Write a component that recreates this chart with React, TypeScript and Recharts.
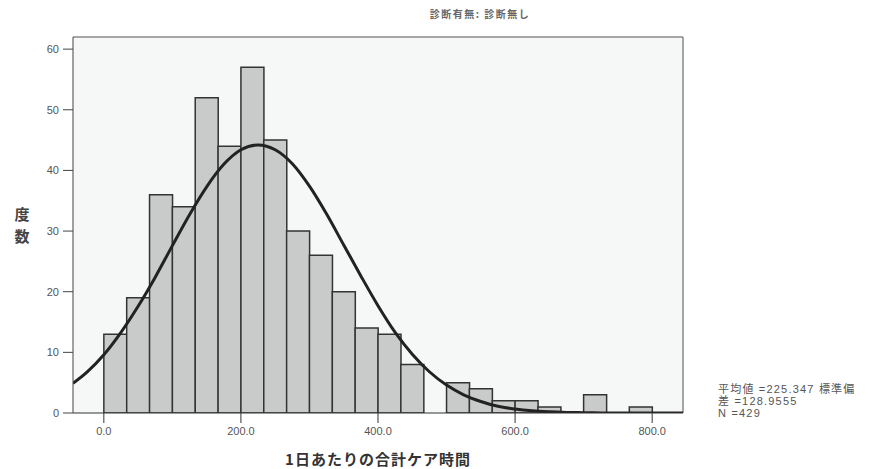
import { Bar, CartesianGrid, ComposedChart, Line, ReferenceLine, XAxis, YAxis } from 'recharts'

// histogram bins (width 33.33, from 0 to 800)
const binCenters = [
  16.67, 50, 83.33, 116.67, 150, 183.33, 216.67, 250, 283.33, 316.67, 350, 383.33,
  416.67, 450, 483.33, 516.67, 550, 583.33, 616.67, 650, 683.33, 716.67, 750, 783.33,
]
const counts = [13, 19, 36, 34, 52, 44, 57, 45, 30, 26, 20, 14, 13, 8, 0, 5, 4, 2, 2, 1, 0, 3, 0, 1]

// normal curve
const curveX = [
  -45, -25, 0, 25, 50, 75, 100, 125, 150, 175, 200, 225, 250, 275, 300, 325, 350, 375, 400,
  425, 450, 475, 500, 525, 550, 575, 600, 625, 650, 675, 700, 725, 750, 775, 800, 825, 845,
]
const curveY = [
  4.9, 6.7, 9.6, 13.3, 17.6, 22.4, 27.6, 32.7, 37.3, 41.0, 43.4, 44.2, 43.4, 41.1, 37.4, 32.8,
  27.7, 22.6, 17.7, 13.3, 9.7, 6.8, 4.6, 3.0, 1.9, 1.1, 0.65, 0.36, 0.2, 0.1, 0.05, 0.02, 0.01,
  0, 0, 0, 0,
]

const xTicks = [0, 200, 400, 600, 800]
const yTicks = [0, 10, 20, 30, 40, 50, 60]

const title = '診断有無: 診断無し'
const statLines = ['平均値 =225.347 標準偏', '差 =128.9555', 'N =429']

const barData = binCenters.map((center, i) => ({ center, count: counts[i] }))
const curveData = curveX.map((x, i) => ({ x, y: curveY[i] }))

const sans = '"Liberation Sans", Arial, "Noto Sans CJK JP", sans-serif'
const jp = '"Noto Sans CJK JP", sans-serif'

export default function App() {
  return (
    <div style={{ position: 'absolute', left: 0, top: 0, width: 888, height: 469, background: '#fff' }}>
      <div
        style={{
          position: 'absolute',
          left: 480,
          top: 6,
          transform: 'translateX(-50%)',
          fontFamily: jp,
          fontSize: 10,
          fontWeight: 700,
          letterSpacing: 1.5,
          color: '#666',
          whiteSpace: 'nowrap',
        }}
      >
        {title}
      </div>
      <ComposedChart
        width={888}
        height={469}
        data={barData}
        margin={{ top: 37, right: 205, left: 13, bottom: 26 }}
        barCategoryGap={0}
        barGap={0}
      >
        <CartesianGrid fill='#f6f8f8' horizontal={false} vertical={false} />
        <XAxis
          type='number'
          dataKey='center'
          domain={[-45, 845]}
          allowDataOverflow
          ticks={xTicks}
          tickFormatter={(v) => Number(v).toFixed(1)}
          tickSize={10}
          tickMargin={4}
          height={30}
          stroke='#333'
          tick={{ fill: '#555', fontSize: 11, fontFamily: sans }}
        />
        <XAxis xAxisId='curve' type='number' dataKey='x' domain={[-45, 845]} allowDataOverflow hide />
        <YAxis
          domain={[0, 62]}
          allowDataOverflow
          ticks={yTicks}
          tickSize={10}
          tickMargin={4}
          width={60}
          stroke='#444'
          tick={{ fill: '#555', fontSize: 11, fontFamily: sans }}
        />
        <ReferenceLine y={62} stroke='#888' strokeWidth={1.5} />
        <ReferenceLine x={845} stroke='#888' strokeWidth={1.5} />
        <Bar dataKey='count' fill='#c9cbcb' stroke='#333' strokeWidth={1.5} isAnimationActive={false} />
        <Line
          xAxisId='curve'
          data={curveData}
          dataKey='y'
          type='monotone'
          stroke='#222'
          strokeWidth={3}
          dot={false}
          activeDot={false}
          isAnimationActive={false}
        />
      </ComposedChart>
      <div
        style={{
          position: 'absolute',
          left: 22,
          top: 203,
          transform: 'translateX(-50%)',
          fontFamily: jp,
          fontSize: 15,
          fontWeight: 700,
          lineHeight: '22px',
          color: '#444',
          textAlign: 'center',
        }}
      >
        <div>度</div>
        <div>数</div>
      </div>
      <div
        style={{
          position: 'absolute',
          left: 378,
          top: 448,
          transform: 'translateX(-50%)',
          fontFamily: jp,
          fontSize: 15,
          fontWeight: 700,
          letterSpacing: 1,
          color: '#333',
          whiteSpace: 'nowrap',
        }}
      >
        1日あたりの合計ケア時間
      </div>
      <div
        style={{
          position: 'absolute',
          left: 718,
          top: 383,
          fontFamily: sans,
          fontSize: 11,
          lineHeight: '12px',
          letterSpacing: 1.2,
          color: '#555',
          whiteSpace: 'nowrap',
        }}
      >
        {statLines.map((s) => (
          <div key={s}>{s}</div>
        ))}
      </div>
    </div>
  )
}
